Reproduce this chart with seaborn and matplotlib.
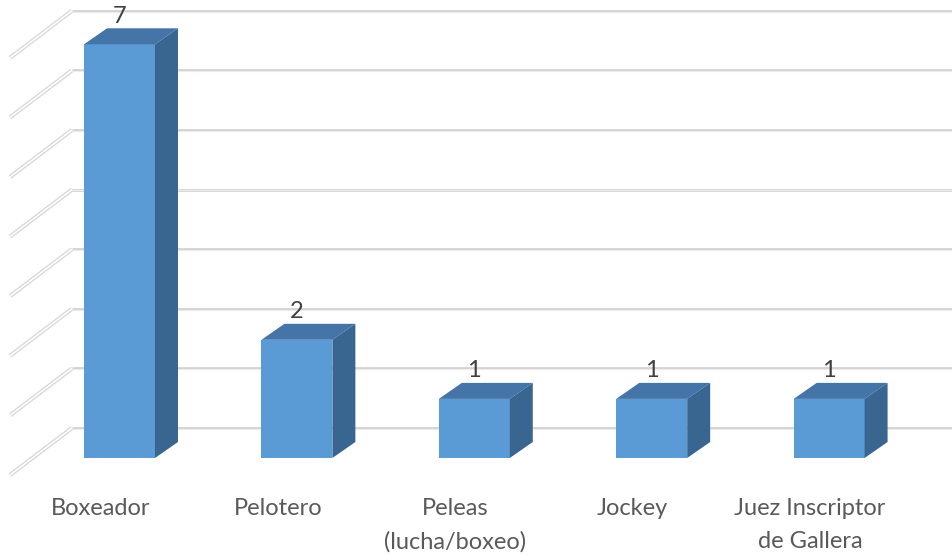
import numpy as np
import matplotlib
matplotlib.use("Agg")
import matplotlib.pyplot as plt
import matplotlib.transforms as mtransforms
from matplotlib.patches import Polygon
import seaborn as sns

categories = ["Boxeador", "Pelotero", "Peleas\n(lucha/boxeo)", "Jockey", "Juez Inscriptor\nde Gallera"]
values = [7, 2, 1, 1, 1]
grid_levels = [0, 1, 2, 3, 4, 5, 6, 7]

sns.set_theme(style="white")
plt.rcParams["font.family"] = ["Lato", "DejaVu Sans"]

W, H = 952, 556
fig = plt.figure(figsize=(W / 100, H / 100), dpi=100)
bottom_px = 480
ax = fig.add_axes([0, (H - bottom_px) / H, 1, bottom_px / H])

front = "#5B9BD5"
top_c = "#4474A8"
side_c = "#396591"

sns.barplot(x=categories, y=values, color=front, saturation=1, width=0.4,
            ax=ax, zorder=3, edgecolor="none")

# scales (data units)
px_x = 177.4
px_y = 59.1
x0_px, y0_px = 119.5, 458
xlim = (-x0_px / px_x, (W - x0_px) / px_x)
ax.set_xlim(*xlim)
ax.set_ylim((y0_px - bottom_px) / px_y, y0_px / px_y)

depth_dx = 23 / px_x
depth_dy = 16 / px_y

# back wall geometry
wall_dy = 30 / px_y
wall_scale = 59.6 / px_y
wall_left = (72 - x0_px) / px_x
diag_dx = -62 / px_x
diag_dy = -47 / px_y

for k in grid_levels:
    yk = wall_dy + wall_scale * k
    ax.plot([wall_left, xlim[1]], [yk, yk], color="#d3d3d3", lw=2.0,
            zorder=1, solid_capstyle="butt")
    ax.plot([wall_left, xlim[1]], [yk - 0.012, yk - 0.012], color="#ececec", lw=0.8,
            zorder=1.1, solid_capstyle="butt")
    ax.plot([wall_left, wall_left + diag_dx], [yk, yk + diag_dy], color="#d6d6d6",
            lw=3.0, zorder=1, solid_capstyle="butt")
    ax.plot([wall_left, wall_left + diag_dx], [yk, yk + diag_dy], color="white",
            lw=1.2, zorder=1.1, solid_capstyle="butt")

for p, v in zip(ax.patches, values):
    x = p.get_x()
    w = p.get_width()
    h = p.get_height()
    top = Polygon([[x, h], [x + w, h], [x + w + depth_dx, h + depth_dy], [x + depth_dx, h + depth_dy]],
                  closed=True, facecolor=top_c, edgecolor="none", zorder=3)
    side = Polygon([[x + w, 0], [x + w + depth_dx, depth_dy], [x + w + depth_dx, h + depth_dy], [x + w, h]],
                   closed=True, facecolor=side_c, edgecolor="none", zorder=3)
    ax.add_patch(top)
    ax.add_patch(side)
    ax.text(x + w / 2, h + depth_dy + 0.03, f"{v}", ha="center", va="bottom",
            fontsize=17, color="#404040", zorder=4)

ax.set_xlabel("")
ax.set_ylabel("")
ax.set_yticks([])
ax.tick_params(axis="x", length=0, pad=13, labelsize=17, labelcolor="#595959")
for spine in ax.spines.values():
    spine.set_visible(False)
offset = mtransforms.ScaledTranslation(-19 / 100, 0, fig.dpi_scale_trans)
for lab in ax.get_xticklabels():
    lab.set_transform(lab.get_transform() + offset)
    lab.set_linespacing(1.7)

fig.savefig("out.png", dpi=100)
